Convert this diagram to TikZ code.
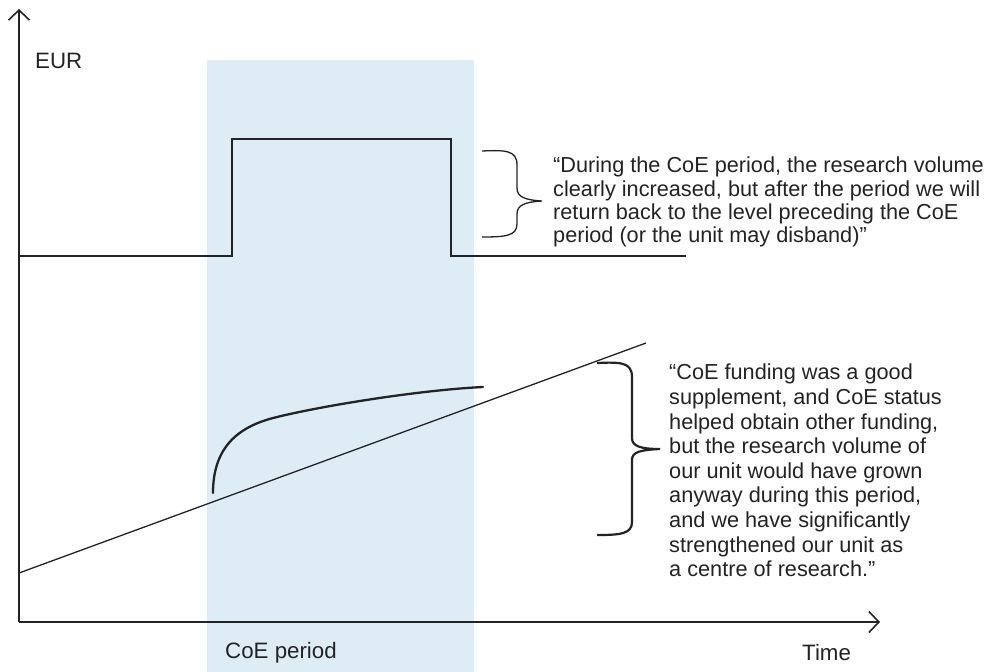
\documentclass[tikz,border=0pt]{standalone}
\usepackage{fontspec}
\setmainfont{Liberation Sans}
\usetikzlibrary{arrows.meta}
\definecolor{periodblue}{RGB}{222,236,246}
\definecolor{inkgrey}{RGB}{35,35,38}

\begin{document}
\begin{tikzpicture}[
  x=1pt, y=-1pt,
  font=\fontsize{21.7}{23.3}\selectfont,
  axis/.style={draw=inkgrey, line width=1.3pt,
    -{Straight Barb[length=10pt, width=21pt, line width=1.6pt]}},
  trend/.style={draw=inkgrey, line width=#1},
  trend/.default=1.3pt,
  lbl/.style={inner sep=0pt, anchor=west, text=inkgrey,
    font=\fontsize{22.3}{24}\selectfont},
  quote/.style={inner sep=0pt, anchor=north west, align=left, text=inkgrey}
]
\useasboundingbox (0,0) rectangle (988,672);

\fill[periodblue] (207,60) rectangle (474,672);

\coordinate (origin) at (19,622);
\draw[axis] (origin) -- (19,9);
\draw[axis] (origin) -- (880,622);

\node[lbl] (eur) at (35,61) {EUR};
\node[lbl] (period) at (225,653) {CoE period};
\node[lbl] (time) at (802,653) {Time};

\draw[trend=1.6pt] (19,256) -- (232,256) -- (232,139) -- (451,139)
  -- (451,256) -- (686,256);
\draw[trend] (19,573) -- (646,343);
\draw[trend=2.3pt, line cap=round] (213,493) .. controls (213,450) and (235,428) .. (273,418)
  .. controls (320,406) and (420,390) .. (483,387);

\draw[trend=1.3pt] (482,151) .. controls (505,150) and (517,150) .. (517,165) -- (517,188)
  .. controls (517,197) and (525,200) .. (542,201)
  .. controls (525,202) and (517,205) .. (517,214) -- (517,224)
  .. controls (517,236) and (505,237) .. (482,237);
\node[quote] (stay) at (553,157) {“During the CoE period, the research volume\\
  clearly increased, but after the period we will\\
  return back to the level preceding the CoE\\
  period (or the unit may disband)”};

\draw[trend=2.2pt] (597,363) .. controls (620,362) and (632,362) .. (632,377) -- (632,438)
  .. controls (632,446) and (640,449) .. (660,449)
  .. controls (640,450) and (632,452) .. (632,460) -- (632,522)
  .. controls (632,534) and (620,535) .. (597,535);
\node[quote, font=\fontsize{21.7}{24.6}\selectfont] (grow) at (669,364)
  {“CoE funding was a good\\
  supplement, and CoE status\\
  helped obtain other funding,\\
  but the research volume of\\
  our unit would have grown\\
  anyway during this period,\\
  and we have significantly\\
  strengthened our unit as\\
  a centre of research.”};
\end{tikzpicture}
\end{document}
